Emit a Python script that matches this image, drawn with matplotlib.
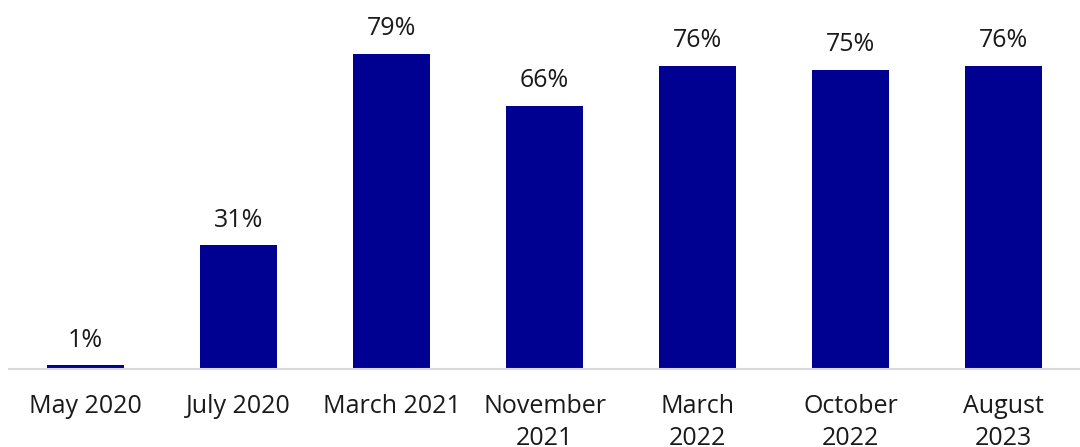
import matplotlib
matplotlib.use("Agg")
import matplotlib.pyplot as plt
import numpy as np

plt.rcParams["font.family"] = ["Open Sans", "DejaVu Sans"]

categories = ["May 2020", "July 2020", "March 2021", "November\n2021",
              "March\n2022", "October\n2022", "August\n2023"]
values = [1, 31, 79, 66, 76, 75, 76]

BAR_COLOR = "#000091"

fig = plt.figure(figsize=(10.8, 4.47), dpi=100)
ax = fig.add_axes([9 / 1080, 1 - 369 / 447, 1071 / 1080, 369 / 447])

x = np.arange(len(categories))
ax.bar(x, values, width=0.5, color=BAR_COLOR, zorder=2)

# value labels above each bar
for xi, v in zip(x, values):
    ax.annotate(f"{v}%", (xi, v), xytext=(0, 9), textcoords="offset points",
                ha="center", va="bottom", fontsize=18, color="#1a1a1a")

ax.set_xlim(-0.5, len(categories) - 0.5)
ax.set_ylim(0, 92.5)
ax.set_yticks([])
ax.set_xticks(x)
ax.set_xticklabels(categories, fontsize=18, color="#1a1a1a", linespacing=1.35)
ax.tick_params(axis="x", length=0, pad=18)

for side in ["top", "right", "left"]:
    ax.spines[side].set_visible(False)
ax.spines["bottom"].set_color("#d9d9d9")
ax.spines["bottom"].set_linewidth(1.5)

fig.savefig("out.png", dpi=100)
